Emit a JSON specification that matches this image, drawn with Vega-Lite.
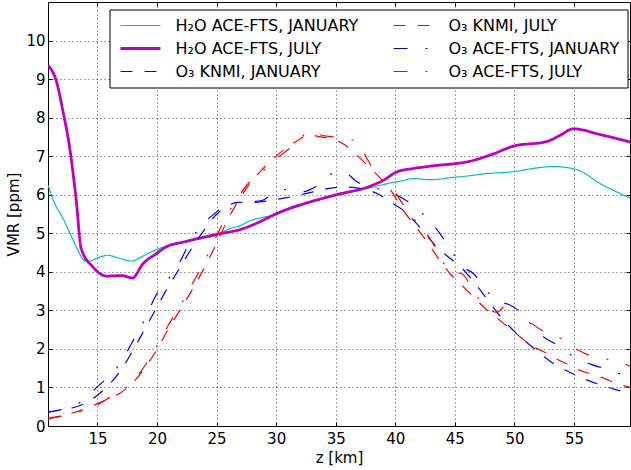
{
  "$schema": "https://vega.github.io/schema/vega-lite/v6.json",
  "width": 582,
  "height": 424,
  "autosize": {"type": "none"},
  "padding": {"left": 48, "top": 2, "right": 1, "bottom": 44},
  "background": "white",
  "config": {
    "font": "DejaVu Sans",
    "view": {"stroke": "black", "strokeWidth": 1},
    "axis": {
      "labelFont": "DejaVu Sans", "labelFontSize": 15, "labelColor": "black",
      "titleFont": "DejaVu Sans", "titleFontSize": 15, "titleFontWeight": "normal", "titleColor": "black",
      "tickColor": "black", "tickSize": -4, "tickWidth": 1, "domain": false,
      "grid": true, "gridColor": "black", "gridDash": [1, 3], "gridOpacity": 0.9, "gridWidth": 0.8
    },
    "legend": {
      "symbolType": "M-1,0H7", "symbolSize": 100, "labelFont": "DejaVu Sans", "labelFontSize": 16,
      "labelColor": "black", "labelOffset": 42, "labelLimit": 400, "padding": 8, "rowPadding": 7,
      "columnPadding": 32, "fillColor": "white", "strokeColor": "black"
    }
  },
  "data": {"values": [
    {"s": "H₂O ACE-FTS, JANUARY", "z": 10.87, "v": 6.24},
    {"s": "H₂O ACE-FTS, JANUARY", "z": 11.3, "v": 5.85},
    {"s": "H₂O ACE-FTS, JANUARY", "z": 12.0, "v": 5.45},
    {"s": "H₂O ACE-FTS, JANUARY", "z": 12.7, "v": 5.0},
    {"s": "H₂O ACE-FTS, JANUARY", "z": 13.3, "v": 4.6},
    {"s": "H₂O ACE-FTS, JANUARY", "z": 13.8, "v": 4.32},
    {"s": "H₂O ACE-FTS, JANUARY", "z": 14.2, "v": 4.27},
    {"s": "H₂O ACE-FTS, JANUARY", "z": 15.01, "v": 4.36},
    {"s": "H₂O ACE-FTS, JANUARY", "z": 15.82, "v": 4.43},
    {"s": "H₂O ACE-FTS, JANUARY", "z": 16.86, "v": 4.35},
    {"s": "H₂O ACE-FTS, JANUARY", "z": 17.84, "v": 4.28},
    {"s": "H₂O ACE-FTS, JANUARY", "z": 18.96, "v": 4.43},
    {"s": "H₂O ACE-FTS, JANUARY", "z": 19.97, "v": 4.58},
    {"s": "H₂O ACE-FTS, JANUARY", "z": 22.2, "v": 4.76},
    {"s": "H₂O ACE-FTS, JANUARY", "z": 23.5, "v": 4.85},
    {"s": "H₂O ACE-FTS, JANUARY", "z": 24.98, "v": 4.95},
    {"s": "H₂O ACE-FTS, JANUARY", "z": 26.1, "v": 5.12},
    {"s": "H₂O ACE-FTS, JANUARY", "z": 27.0, "v": 5.2},
    {"s": "H₂O ACE-FTS, JANUARY", "z": 27.78, "v": 5.32},
    {"s": "H₂O ACE-FTS, JANUARY", "z": 29.0, "v": 5.42},
    {"s": "H₂O ACE-FTS, JANUARY", "z": 30.16, "v": 5.5},
    {"s": "H₂O ACE-FTS, JANUARY", "z": 31.23, "v": 5.68},
    {"s": "H₂O ACE-FTS, JANUARY", "z": 33.0, "v": 5.82},
    {"s": "H₂O ACE-FTS, JANUARY", "z": 35.07, "v": 5.98},
    {"s": "H₂O ACE-FTS, JANUARY", "z": 37.87, "v": 6.18},
    {"s": "H₂O ACE-FTS, JANUARY", "z": 39.5, "v": 6.3},
    {"s": "H₂O ACE-FTS, JANUARY", "z": 40.69, "v": 6.37},
    {"s": "H₂O ACE-FTS, JANUARY", "z": 41.5, "v": 6.42},
    {"s": "H₂O ACE-FTS, JANUARY", "z": 42.9, "v": 6.39},
    {"s": "H₂O ACE-FTS, JANUARY", "z": 43.5, "v": 6.4},
    {"s": "H₂O ACE-FTS, JANUARY", "z": 44.6, "v": 6.44},
    {"s": "H₂O ACE-FTS, JANUARY", "z": 45.9, "v": 6.48},
    {"s": "H₂O ACE-FTS, JANUARY", "z": 47.4, "v": 6.54},
    {"s": "H₂O ACE-FTS, JANUARY", "z": 50.21, "v": 6.61},
    {"s": "H₂O ACE-FTS, JANUARY", "z": 51.5, "v": 6.68},
    {"s": "H₂O ACE-FTS, JANUARY", "z": 53.3, "v": 6.73},
    {"s": "H₂O ACE-FTS, JANUARY", "z": 55.25, "v": 6.65},
    {"s": "H₂O ACE-FTS, JANUARY", "z": 57.2, "v": 6.29},
    {"s": "H₂O ACE-FTS, JANUARY", "z": 59.71, "v": 5.91},

    {"s": "H₂O ACE-FTS, JULY", "z": 10.87, "v": 9.35},
    {"s": "H₂O ACE-FTS, JULY", "z": 11.54, "v": 8.96},
    {"s": "H₂O ACE-FTS, JULY", "z": 12.09, "v": 8.19},
    {"s": "H₂O ACE-FTS, JULY", "z": 12.66, "v": 7.24},
    {"s": "H₂O ACE-FTS, JULY", "z": 13.22, "v": 5.85},
    {"s": "H₂O ACE-FTS, JULY", "z": 13.64, "v": 4.6},
    {"s": "H₂O ACE-FTS, JULY", "z": 14.61, "v": 4.13},
    {"s": "H₂O ACE-FTS, JULY", "z": 15.18, "v": 3.96},
    {"s": "H₂O ACE-FTS, JULY", "z": 15.74, "v": 3.89},
    {"s": "H₂O ACE-FTS, JULY", "z": 17.14, "v": 3.9},
    {"s": "H₂O ACE-FTS, JULY", "z": 17.93, "v": 3.84},
    {"s": "H₂O ACE-FTS, JULY", "z": 18.82, "v": 4.21},
    {"s": "H₂O ACE-FTS, JULY", "z": 19.94, "v": 4.47},
    {"s": "H₂O ACE-FTS, JULY", "z": 20.78, "v": 4.65},
    {"s": "H₂O ACE-FTS, JULY", "z": 22.18, "v": 4.77},
    {"s": "H₂O ACE-FTS, JULY", "z": 24.98, "v": 4.97},
    {"s": "H₂O ACE-FTS, JULY", "z": 27.22, "v": 5.12},
    {"s": "H₂O ACE-FTS, JULY", "z": 28.5, "v": 5.28},
    {"s": "H₂O ACE-FTS, JULY", "z": 30.03, "v": 5.51},
    {"s": "H₂O ACE-FTS, JULY", "z": 32.5, "v": 5.78},
    {"s": "H₂O ACE-FTS, JULY", "z": 35.07, "v": 6.0},
    {"s": "H₂O ACE-FTS, JULY", "z": 37.87, "v": 6.22},
    {"s": "H₂O ACE-FTS, JULY", "z": 38.98, "v": 6.37},
    {"s": "H₂O ACE-FTS, JULY", "z": 40.11, "v": 6.59},
    {"s": "H₂O ACE-FTS, JULY", "z": 41.5, "v": 6.68},
    {"s": "H₂O ACE-FTS, JULY", "z": 42.91, "v": 6.74},
    {"s": "H₂O ACE-FTS, JULY", "z": 46.55, "v": 6.89},
    {"s": "H₂O ACE-FTS, JULY", "z": 48.23, "v": 7.06},
    {"s": "H₂O ACE-FTS, JULY", "z": 49.91, "v": 7.26},
    {"s": "H₂O ACE-FTS, JULY", "z": 52.72, "v": 7.38},
    {"s": "H₂O ACE-FTS, JULY", "z": 53.83, "v": 7.54},
    {"s": "H₂O ACE-FTS, JULY", "z": 54.95, "v": 7.71},
    {"s": "H₂O ACE-FTS, JULY", "z": 57.2, "v": 7.56},
    {"s": "H₂O ACE-FTS, JULY", "z": 59.71, "v": 7.37},

    {"s": "O₃ KNMI, JANUARY", "z": 10.85, "v": 0.35},
    {"s": "O₃ KNMI, JANUARY", "z": 12.04, "v": 0.42},
    {"s": "O₃ KNMI, JANUARY", "z": 13.03, "v": 0.48},
    {"s": "O₃ KNMI, JANUARY", "z": 14.01, "v": 0.6},
    {"s": "O₃ KNMI, JANUARY", "z": 15.0, "v": 0.8},
    {"s": "O₃ KNMI, JANUARY", "z": 15.99, "v": 1.08},
    {"s": "O₃ KNMI, JANUARY", "z": 16.97, "v": 1.45},
    {"s": "O₃ KNMI, JANUARY", "z": 17.96, "v": 1.95},
    {"s": "O₃ KNMI, JANUARY", "z": 18.95, "v": 2.5},
    {"s": "O₃ KNMI, JANUARY", "z": 19.93, "v": 3.05},
    {"s": "O₃ KNMI, JANUARY", "z": 20.92, "v": 3.6},
    {"s": "O₃ KNMI, JANUARY", "z": 21.91, "v": 4.1},
    {"s": "O₃ KNMI, JANUARY", "z": 22.89, "v": 4.6},
    {"s": "O₃ KNMI, JANUARY", "z": 23.88, "v": 5.05},
    {"s": "O₃ KNMI, JANUARY", "z": 24.87, "v": 5.45},
    {"s": "O₃ KNMI, JANUARY", "z": 25.85, "v": 5.7},
    {"s": "O₃ KNMI, JANUARY", "z": 26.84, "v": 5.8},
    {"s": "O₃ KNMI, JANUARY", "z": 27.82, "v": 5.8},
    {"s": "O₃ KNMI, JANUARY", "z": 28.81, "v": 5.82},
    {"s": "O₃ KNMI, JANUARY", "z": 29.8, "v": 5.87},
    {"s": "O₃ KNMI, JANUARY", "z": 30.79, "v": 5.92},
    {"s": "O₃ KNMI, JANUARY", "z": 31.77, "v": 5.98},
    {"s": "O₃ KNMI, JANUARY", "z": 32.76, "v": 6.05},
    {"s": "O₃ KNMI, JANUARY", "z": 33.74, "v": 6.12},
    {"s": "O₃ KNMI, JANUARY", "z": 34.73, "v": 6.18},
    {"s": "O₃ KNMI, JANUARY", "z": 35.72, "v": 6.2},
    {"s": "O₃ KNMI, JANUARY", "z": 36.71, "v": 6.18},
    {"s": "O₃ KNMI, JANUARY", "z": 37.69, "v": 6.12},
    {"s": "O₃ KNMI, JANUARY", "z": 38.68, "v": 6.0},
    {"s": "O₃ KNMI, JANUARY", "z": 39.66, "v": 5.8},
    {"s": "O₃ KNMI, JANUARY", "z": 40.65, "v": 5.6},
    {"s": "O₃ KNMI, JANUARY", "z": 41.64, "v": 5.3},
    {"s": "O₃ KNMI, JANUARY", "z": 42.62, "v": 4.95},
    {"s": "O₃ KNMI, JANUARY", "z": 43.61, "v": 4.6},
    {"s": "O₃ KNMI, JANUARY", "z": 44.6, "v": 4.35},
    {"s": "O₃ KNMI, JANUARY", "z": 45.58, "v": 4.1},
    {"s": "O₃ KNMI, JANUARY", "z": 46.57, "v": 3.75},
    {"s": "O₃ KNMI, JANUARY", "z": 47.56, "v": 3.35},
    {"s": "O₃ KNMI, JANUARY", "z": 48.54, "v": 2.95},
    {"s": "O₃ KNMI, JANUARY", "z": 49.53, "v": 2.6},
    {"s": "O₃ KNMI, JANUARY", "z": 50.52, "v": 2.3},
    {"s": "O₃ KNMI, JANUARY", "z": 51.5, "v": 2.05},
    {"s": "O₃ KNMI, JANUARY", "z": 52.49, "v": 1.8},
    {"s": "O₃ KNMI, JANUARY", "z": 53.47, "v": 1.58},
    {"s": "O₃ KNMI, JANUARY", "z": 54.46, "v": 1.42},
    {"s": "O₃ KNMI, JANUARY", "z": 55.45, "v": 1.28},
    {"s": "O₃ KNMI, JANUARY", "z": 56.43, "v": 1.15},
    {"s": "O₃ KNMI, JANUARY", "z": 57.42, "v": 1.05},
    {"s": "O₃ KNMI, JANUARY", "z": 58.41, "v": 0.95},
    {"s": "O₃ KNMI, JANUARY", "z": 59.7, "v": 0.85},

    {"s": "O₃ ACE-FTS, JANUARY", "z": 10.85, "v": 0.37},
    {"s": "O₃ ACE-FTS, JANUARY", "z": 12.04, "v": 0.43},
    {"s": "O₃ ACE-FTS, JANUARY", "z": 13.03, "v": 0.52},
    {"s": "O₃ ACE-FTS, JANUARY", "z": 14.01, "v": 0.72},
    {"s": "O₃ ACE-FTS, JANUARY", "z": 15.0, "v": 1.02},
    {"s": "O₃ ACE-FTS, JANUARY", "z": 15.99, "v": 1.3},
    {"s": "O₃ ACE-FTS, JANUARY", "z": 16.97, "v": 1.65},
    {"s": "O₃ ACE-FTS, JANUARY", "z": 17.96, "v": 2.2},
    {"s": "O₃ ACE-FTS, JANUARY", "z": 18.95, "v": 2.75},
    {"s": "O₃ ACE-FTS, JANUARY", "z": 19.93, "v": 3.4},
    {"s": "O₃ ACE-FTS, JANUARY", "z": 20.92, "v": 3.8},
    {"s": "O₃ ACE-FTS, JANUARY", "z": 21.91, "v": 4.25},
    {"s": "O₃ ACE-FTS, JANUARY", "z": 22.89, "v": 4.85},
    {"s": "O₃ ACE-FTS, JANUARY", "z": 23.88, "v": 5.25},
    {"s": "O₃ ACE-FTS, JANUARY", "z": 24.87, "v": 5.52},
    {"s": "O₃ ACE-FTS, JANUARY", "z": 25.85, "v": 5.75},
    {"s": "O₃ ACE-FTS, JANUARY", "z": 26.84, "v": 5.8},
    {"s": "O₃ ACE-FTS, JANUARY", "z": 27.82, "v": 5.82},
    {"s": "O₃ ACE-FTS, JANUARY", "z": 28.81, "v": 5.85},
    {"s": "O₃ ACE-FTS, JANUARY", "z": 29.8, "v": 6.05},
    {"s": "O₃ ACE-FTS, JANUARY", "z": 30.79, "v": 6.13},
    {"s": "O₃ ACE-FTS, JANUARY", "z": 31.77, "v": 6.05},
    {"s": "O₃ ACE-FTS, JANUARY", "z": 32.76, "v": 6.12},
    {"s": "O₃ ACE-FTS, JANUARY", "z": 33.74, "v": 6.3},
    {"s": "O₃ ACE-FTS, JANUARY", "z": 34.73, "v": 6.55},
    {"s": "O₃ ACE-FTS, JANUARY", "z": 35.72, "v": 6.58},
    {"s": "O₃ ACE-FTS, JANUARY", "z": 36.71, "v": 6.35},
    {"s": "O₃ ACE-FTS, JANUARY", "z": 37.69, "v": 6.2},
    {"s": "O₃ ACE-FTS, JANUARY", "z": 38.68, "v": 6.15},
    {"s": "O₃ ACE-FTS, JANUARY", "z": 39.66, "v": 6.05},
    {"s": "O₃ ACE-FTS, JANUARY", "z": 40.65, "v": 5.9},
    {"s": "O₃ ACE-FTS, JANUARY", "z": 41.64, "v": 5.7},
    {"s": "O₃ ACE-FTS, JANUARY", "z": 42.62, "v": 5.4},
    {"s": "O₃ ACE-FTS, JANUARY", "z": 43.61, "v": 5.05},
    {"s": "O₃ ACE-FTS, JANUARY", "z": 44.6, "v": 4.6},
    {"s": "O₃ ACE-FTS, JANUARY", "z": 45.58, "v": 4.15},
    {"s": "O₃ ACE-FTS, JANUARY", "z": 46.57, "v": 3.95},
    {"s": "O₃ ACE-FTS, JANUARY", "z": 47.56, "v": 3.55},
    {"s": "O₃ ACE-FTS, JANUARY", "z": 48.54, "v": 3.25},
    {"s": "O₃ ACE-FTS, JANUARY", "z": 49.53, "v": 3.15},
    {"s": "O₃ ACE-FTS, JANUARY", "z": 50.52, "v": 2.95},
    {"s": "O₃ ACE-FTS, JANUARY", "z": 51.5, "v": 2.6},
    {"s": "O₃ ACE-FTS, JANUARY", "z": 52.49, "v": 2.3},
    {"s": "O₃ ACE-FTS, JANUARY", "z": 53.47, "v": 2.12},
    {"s": "O₃ ACE-FTS, JANUARY", "z": 54.46, "v": 1.9},
    {"s": "O₃ ACE-FTS, JANUARY", "z": 55.45, "v": 1.72},
    {"s": "O₃ ACE-FTS, JANUARY", "z": 56.43, "v": 1.6},
    {"s": "O₃ ACE-FTS, JANUARY", "z": 57.42, "v": 1.5},
    {"s": "O₃ ACE-FTS, JANUARY", "z": 58.41, "v": 1.4},
    {"s": "O₃ ACE-FTS, JANUARY", "z": 59.7, "v": 1.25},

    {"s": "O₃ KNMI, JULY", "z": 10.85, "v": 0.2},
    {"s": "O₃ KNMI, JULY", "z": 12.04, "v": 0.27},
    {"s": "O₃ KNMI, JULY", "z": 13.03, "v": 0.35},
    {"s": "O₃ KNMI, JULY", "z": 14.01, "v": 0.45},
    {"s": "O₃ KNMI, JULY", "z": 15.0, "v": 0.58},
    {"s": "O₃ KNMI, JULY", "z": 15.99, "v": 0.72},
    {"s": "O₃ KNMI, JULY", "z": 16.97, "v": 0.87},
    {"s": "O₃ KNMI, JULY", "z": 17.96, "v": 1.12},
    {"s": "O₃ KNMI, JULY", "z": 18.95, "v": 1.5},
    {"s": "O₃ KNMI, JULY", "z": 19.93, "v": 1.95},
    {"s": "O₃ KNMI, JULY", "z": 20.92, "v": 2.5},
    {"s": "O₃ KNMI, JULY", "z": 21.91, "v": 3.0},
    {"s": "O₃ KNMI, JULY", "z": 22.89, "v": 3.5},
    {"s": "O₃ KNMI, JULY", "z": 23.88, "v": 4.05},
    {"s": "O₃ KNMI, JULY", "z": 24.87, "v": 4.65},
    {"s": "O₃ KNMI, JULY", "z": 25.85, "v": 5.3},
    {"s": "O₃ KNMI, JULY", "z": 26.84, "v": 5.85},
    {"s": "O₃ KNMI, JULY", "z": 27.82, "v": 6.3},
    {"s": "O₃ KNMI, JULY", "z": 28.81, "v": 6.65},
    {"s": "O₃ KNMI, JULY", "z": 29.8, "v": 6.95},
    {"s": "O₃ KNMI, JULY", "z": 30.79, "v": 7.2},
    {"s": "O₃ KNMI, JULY", "z": 31.77, "v": 7.4},
    {"s": "O₃ KNMI, JULY", "z": 32.76, "v": 7.55},
    {"s": "O₃ KNMI, JULY", "z": 33.74, "v": 7.5},
    {"s": "O₃ KNMI, JULY", "z": 34.73, "v": 7.45},
    {"s": "O₃ KNMI, JULY", "z": 35.72, "v": 7.3},
    {"s": "O₃ KNMI, JULY", "z": 36.71, "v": 7.05},
    {"s": "O₃ KNMI, JULY", "z": 37.69, "v": 6.75},
    {"s": "O₃ KNMI, JULY", "z": 38.68, "v": 6.45},
    {"s": "O₃ KNMI, JULY", "z": 39.66, "v": 6.1},
    {"s": "O₃ KNMI, JULY", "z": 40.65, "v": 5.6},
    {"s": "O₃ KNMI, JULY", "z": 41.64, "v": 5.2},
    {"s": "O₃ KNMI, JULY", "z": 42.62, "v": 4.8},
    {"s": "O₃ KNMI, JULY", "z": 43.61, "v": 4.35},
    {"s": "O₃ KNMI, JULY", "z": 44.6, "v": 3.95},
    {"s": "O₃ KNMI, JULY", "z": 45.58, "v": 3.65},
    {"s": "O₃ KNMI, JULY", "z": 46.57, "v": 3.35},
    {"s": "O₃ KNMI, JULY", "z": 47.56, "v": 3.05},
    {"s": "O₃ KNMI, JULY", "z": 48.54, "v": 2.8},
    {"s": "O₃ KNMI, JULY", "z": 49.53, "v": 2.55},
    {"s": "O₃ KNMI, JULY", "z": 50.52, "v": 2.3},
    {"s": "O₃ KNMI, JULY", "z": 51.5, "v": 2.07},
    {"s": "O₃ KNMI, JULY", "z": 52.49, "v": 1.92},
    {"s": "O₃ KNMI, JULY", "z": 53.47, "v": 1.75},
    {"s": "O₃ KNMI, JULY", "z": 54.46, "v": 1.6},
    {"s": "O₃ KNMI, JULY", "z": 55.45, "v": 1.45},
    {"s": "O₃ KNMI, JULY", "z": 56.43, "v": 1.35},
    {"s": "O₃ KNMI, JULY", "z": 57.42, "v": 1.25},
    {"s": "O₃ KNMI, JULY", "z": 58.41, "v": 1.12},
    {"s": "O₃ KNMI, JULY", "z": 59.7, "v": 1.0},

    {"s": "O₃ ACE-FTS, JULY", "z": 10.85, "v": 0.18},
    {"s": "O₃ ACE-FTS, JULY", "z": 12.04, "v": 0.26},
    {"s": "O₃ ACE-FTS, JULY", "z": 13.03, "v": 0.33},
    {"s": "O₃ ACE-FTS, JULY", "z": 14.01, "v": 0.42},
    {"s": "O₃ ACE-FTS, JULY", "z": 15.0, "v": 0.55},
    {"s": "O₃ ACE-FTS, JULY", "z": 15.99, "v": 0.73},
    {"s": "O₃ ACE-FTS, JULY", "z": 16.97, "v": 0.9},
    {"s": "O₃ ACE-FTS, JULY", "z": 17.96, "v": 1.15},
    {"s": "O₃ ACE-FTS, JULY", "z": 18.95, "v": 1.55},
    {"s": "O₃ ACE-FTS, JULY", "z": 19.93, "v": 2.05},
    {"s": "O₃ ACE-FTS, JULY", "z": 20.92, "v": 2.6},
    {"s": "O₃ ACE-FTS, JULY", "z": 21.91, "v": 3.1},
    {"s": "O₃ ACE-FTS, JULY", "z": 22.89, "v": 3.65},
    {"s": "O₃ ACE-FTS, JULY", "z": 23.88, "v": 4.2},
    {"s": "O₃ ACE-FTS, JULY", "z": 24.87, "v": 4.85},
    {"s": "O₃ ACE-FTS, JULY", "z": 25.85, "v": 5.45},
    {"s": "O₃ ACE-FTS, JULY", "z": 26.84, "v": 5.95},
    {"s": "O₃ ACE-FTS, JULY", "z": 27.82, "v": 6.35},
    {"s": "O₃ ACE-FTS, JULY", "z": 28.81, "v": 6.6},
    {"s": "O₃ ACE-FTS, JULY", "z": 29.8, "v": 6.88},
    {"s": "O₃ ACE-FTS, JULY", "z": 30.79, "v": 7.12},
    {"s": "O₃ ACE-FTS, JULY", "z": 31.77, "v": 7.35},
    {"s": "O₃ ACE-FTS, JULY", "z": 32.76, "v": 7.65},
    {"s": "O₃ ACE-FTS, JULY", "z": 33.74, "v": 7.55},
    {"s": "O₃ ACE-FTS, JULY", "z": 34.73, "v": 7.5},
    {"s": "O₃ ACE-FTS, JULY", "z": 35.72, "v": 7.45},
    {"s": "O₃ ACE-FTS, JULY", "z": 36.71, "v": 7.4},
    {"s": "O₃ ACE-FTS, JULY", "z": 37.69, "v": 6.9},
    {"s": "O₃ ACE-FTS, JULY", "z": 38.68, "v": 6.4},
    {"s": "O₃ ACE-FTS, JULY", "z": 39.66, "v": 6.2},
    {"s": "O₃ ACE-FTS, JULY", "z": 40.65, "v": 5.75},
    {"s": "O₃ ACE-FTS, JULY", "z": 41.64, "v": 5.35},
    {"s": "O₃ ACE-FTS, JULY", "z": 42.62, "v": 5.0},
    {"s": "O₃ ACE-FTS, JULY", "z": 43.61, "v": 4.5},
    {"s": "O₃ ACE-FTS, JULY", "z": 44.6, "v": 4.0},
    {"s": "O₃ ACE-FTS, JULY", "z": 45.58, "v": 3.95},
    {"s": "O₃ ACE-FTS, JULY", "z": 46.57, "v": 3.5},
    {"s": "O₃ ACE-FTS, JULY", "z": 47.56, "v": 3.1},
    {"s": "O₃ ACE-FTS, JULY", "z": 48.54, "v": 2.95},
    {"s": "O₃ ACE-FTS, JULY", "z": 49.53, "v": 3.2},
    {"s": "O₃ ACE-FTS, JULY", "z": 50.52, "v": 2.95},
    {"s": "O₃ ACE-FTS, JULY", "z": 51.5, "v": 2.65},
    {"s": "O₃ ACE-FTS, JULY", "z": 52.49, "v": 2.45},
    {"s": "O₃ ACE-FTS, JULY", "z": 53.47, "v": 2.35},
    {"s": "O₃ ACE-FTS, JULY", "z": 54.46, "v": 2.15},
    {"s": "O₃ ACE-FTS, JULY", "z": 55.45, "v": 1.95},
    {"s": "O₃ ACE-FTS, JULY", "z": 56.43, "v": 1.82},
    {"s": "O₃ ACE-FTS, JULY", "z": 57.42, "v": 1.75},
    {"s": "O₃ ACE-FTS, JULY", "z": 58.41, "v": 1.7},
    {"s": "O₃ ACE-FTS, JULY", "z": 59.7, "v": 1.55}
  ]},
  "layer": [
    {
      "mark": {"type": "line", "interpolate": "monotone", "clip": true},
      "encoding": {
        "x": {"field": "z", "type": "quantitative",
              "scale": {"domain": [10.85, 59.7], "nice": false, "zero": false},
              "axis": {"orient": "bottom", "values": [15, 20, 25, 30, 35, 40, 45, 50, 55], "title": "z [km]", "labelPadding": 9, "titlePadding": 4}},
        "y": {"field": "v", "type": "quantitative",
              "scale": {"domain": [0, 11], "nice": false, "zero": false},
              "axis": {"orient": "left", "values": [0, 1, 2, 3, 4, 5, 6, 7, 8, 9, 10], "title": "VMR [ppm]", "labelPadding": 7, "titlePadding": 4}},
        "color": {"field": "s", "type": "nominal",
                  "scale": {"domain": ["H₂O ACE-FTS, JANUARY", "H₂O ACE-FTS, JULY", "O₃ KNMI, JANUARY", "O₃ KNMI, JULY", "O₃ ACE-FTS, JANUARY", "O₃ ACE-FTS, JULY"],
                            "range": ["#00bfbf", "#bf00bf", "#0000ff", "#ff0000", "#0000fe", "#fe0000"]},
                  "legend": {"orient": "none", "legendX": 61.5, "legendY": 7.5, "columns": 2, "title": null,
                             "encode": {"symbols": {"update": {
                               "stroke": {"scale": "color", "field": "value"},
                               "strokeOpacity": {"value": 1},
                               "strokeDash": {"scale": "strokeDash", "field": "value"},
                               "strokeWidth": {"scale": "strokeWidth", "field": "value"}
                             }}}}},
        "strokeDash": {"field": "s", "type": "nominal",
                  "scale": {"type": "ordinal", "domain": ["H₂O ACE-FTS, JANUARY", "H₂O ACE-FTS, JULY", "O₃ KNMI, JANUARY", "O₃ KNMI, JULY", "O₃ ACE-FTS, JANUARY", "O₃ ACE-FTS, JULY"],
                            "range": [[1, 0], [1, 0], [12, 12], [12, 12], [14, 18, 2, 18], [14, 18, 2, 18]]},
                  "legend": null},
        "strokeWidth": {"field": "s", "type": "nominal",
                  "scale": {"type": "ordinal", "domain": ["H₂O ACE-FTS, JANUARY", "H₂O ACE-FTS, JULY", "O₃ KNMI, JANUARY", "O₃ KNMI, JULY", "O₃ ACE-FTS, JANUARY", "O₃ ACE-FTS, JULY"],
                            "range": [1.2, 2.8, 1.2, 1.2, 1.2, 1.2]},
                  "legend": null}
      }
    },
    {
      "mark": {"type": "line", "opacity": 0},
      "encoding": {
        "x": {"field": "z", "type": "quantitative",
              "scale": {"domain": [10.85, 59.7], "nice": false, "zero": false},
              "axis": {"orient": "top", "values": [15, 20, 25, 30, 35, 40, 45, 50, 55], "labels": false, "grid": false, "title": null}},
        "y": {"field": "v", "type": "quantitative",
              "scale": {"domain": [0, 11], "nice": false, "zero": false},
              "axis": {"orient": "right", "values": [0, 1, 2, 3, 4, 5, 6, 7, 8, 9, 10], "labels": false, "grid": false, "title": null}},
        "detail": {"field": "s", "type": "nominal"}
      }
    }
  ],
  "resolve": {"axis": {"x": "independent", "y": "independent"}}
}
